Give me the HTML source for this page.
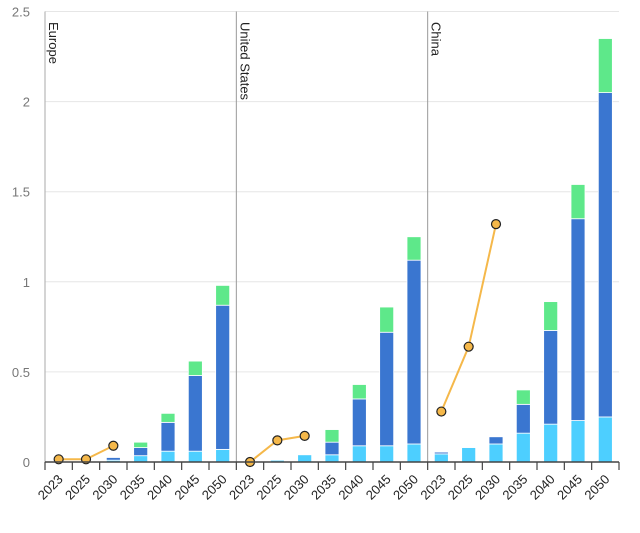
<!DOCTYPE html>
<html><head><meta charset="utf-8"><style>
html,body{margin:0;padding:0;background:#fff;}
svg{display:block;font-family:"Liberation Sans",sans-serif;}
</style></head><body>
<svg id="chart" width="640" height="533" xmlns="http://www.w3.org/2000/svg"></svg>
<script>
const regions = ["Europe","United States","China"];
const years = ["2023","2025","2030","2035","2040","2045","2050"];
const lightVals = [
  [0,0,0.01,0.035,0.06,0.06,0.07],
  [0,0.01,0.04,0.04,0.09,0.09,0.10],
  [0.045,0.08,0.10,0.16,0.21,0.23,0.25]];
const darkVals = [
  [0,0,0.015,0.045,0.16,0.42,0.80],
  [0,0,0,0.07,0.26,0.63,1.02],
  [0.01,0,0.04,0.16,0.52,1.12,1.80]];
const greenVals = [
  [0,0,0,0.03,0.05,0.08,0.11],
  [0,0,0,0.07,0.08,0.14,0.13],
  [0,0,0,0.08,0.16,0.19,0.30]];
const lineVals = [
  [0.015,0.015,0.09],
  [0,0.12,0.145],
  [0.28,0.64,1.32]];
const yTicks = [0,0.5,1,1.5,2,2.5];
const yTickLabels = ["0","0.5","1","1.5","2","2.5"];

const NS="http://www.w3.org/2000/svg";
const svg=document.getElementById('chart');
const X0=45,X1=619,Y0=462,YT=11.5,YMAX=2.5;
const nSlots=regions.length*years.length;
const slotW=(X1-X0)/nSlots;
const y=v=>Y0-(v/YMAX)*(Y0-YT);
const xc=(r,i)=>X0+(r*years.length+i+0.5)*slotW;
function mk(t,a,p){const e=document.createElementNS(NS,t);for(const k in a)e.setAttribute(k,a[k]);(p||svg).appendChild(e);return e;}

yTicks.forEach((v,i)=>{
  const g=mk('line',{x1:X0,x2:X1,y1:y(v),y2:y(v),stroke:'#e6e6e6','stroke-width':1});
  
  
  const t=mk('text',{x:30,y:y(v)+5,'text-anchor':'end','font-size':13,fill:'#777'});
  t.textContent=yTickLabels[i];
  
  
});
const ya=mk('line',{x1:X0,x2:X0,y1:YT,y2:Y0,stroke:'#aaa'});


for(let r=1;r<regions.length;r++){
  const xs=X0+r*years.length*slotW;
  const l=mk('line',{x1:xs,x2:xs,y1:YT,y2:Y0,stroke:'#999'});
  
  
}
regions.forEach((reg,r)=>{
  const xs=X0+r*years.length*slotW+4;
  const t=mk('text',{x:0,y:0,'font-size':13,fill:'#222',transform:`translate(${xs},22) rotate(90)`});
  t.textContent=reg;
  
  
  years.forEach((yr,i)=>{
    const cx=xc(r,i),bw=14;
    let base=0;
    [[lightVals,'#4dcfff','bar-segment-light'],[darkVals,'#3a76d0','bar-segment-dark'],[greenVals,'#5ee88a','bar-segment-green']].forEach(([arr,col,nm])=>{
      const v=arr[r][i];
      if(v>0){
        const rc=mk('rect',{x:cx-bw/2,y:y(base+v),width:bw,height:y(base)-y(base+v),fill:col,stroke:'#fff','stroke-width':0.8});
        
        
      }
      base+=v;
    });
    const lb=mk('text',{x:0,y:0,'font-size':13,fill:'#222','text-anchor':'end',transform:`translate(${cx+5},${Y0+18}) rotate(-45)`});
    lb.textContent=yr;
    
    
  });
  const pts=lineVals[r].map((v,i)=>[xc(r,i),y(v)]);
  const pl=mk('polyline',{points:pts.map(p=>p.join(',')).join(' '),fill:'none',stroke:'#f5b84a','stroke-width':2});
  
  
  pts.forEach(p=>{
    const c=mk('circle',{cx:p[0],cy:p[1],r:4.5,fill:'#f5b84a',stroke:'#222','stroke-width':1.2});
    
    
  });
});
const xa=mk('line',{x1:X0,x2:X1,y1:Y0,y2:Y0,stroke:'#444','stroke-width':1.5});


for(let k=0;k<=nSlots;k++){
  const tx=X0+k*slotW;
  const t=mk('line',{x1:tx,x2:tx,y1:Y0,y2:Y0+8,stroke:'#444','stroke-width':1.2});
  
  
}
</script>
</body></html>
